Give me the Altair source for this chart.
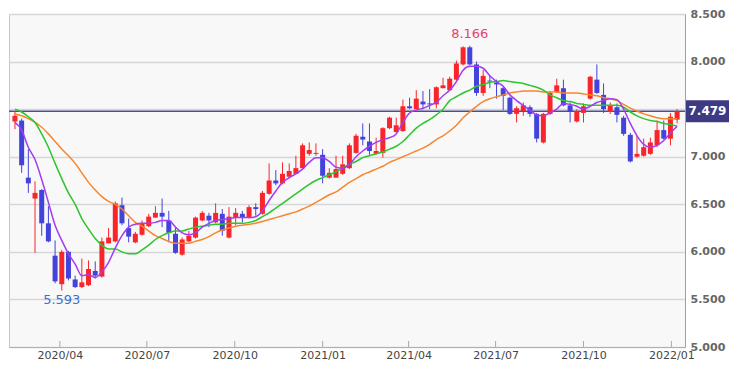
import altair as alt
import pandas as pd

# ---- data (weekly candles) ----
start_date = "2020-02-14"
opens = [7.37, 7.38, 6.78, 6.56, 6.65, 6.30, 5.96, 5.66, 6.00, 5.71,
         5.63, 5.65, 5.80, 5.74, 6.09, 6.11, 6.49, 6.25, 6.10, 6.18,
         6.27, 6.36, 6.41, 6.33, 6.19, 5.97, 6.11, 6.15, 6.33, 6.38,
         6.31, 6.40, 6.15, 6.36, 6.40, 6.36, 6.47, 6.40, 6.61, 6.75,
         6.72, 6.79, 6.82, 6.88, 7.03, 7.03, 7.02, 6.78, 6.78, 6.82,
         6.88, 7.04, 7.21, 7.16, 7.03, 7.04, 7.30, 7.26, 7.27, 7.53,
         7.50, 7.58, 7.56, 7.55, 7.72, 7.70, 7.81, 7.97, 8.15, 7.97,
         7.67, 7.80, 7.78, 7.72, 7.62, 7.45, 7.48, 7.52, 7.45, 7.15,
         7.45, 7.68, 7.72, 7.54, 7.37, 7.46, 7.61, 7.81, 7.65, 7.47,
         7.52, 7.41, 7.23, 7.00, 7.01, 7.03, 7.12, 7.28, 7.19, 7.39]
highs = [7.48, 7.40, 7.08, 6.74, 6.66, 6.48, 6.12, 6.02, 6.01, 5.75,
         5.93, 5.91, 5.90, 6.15, 6.25, 6.53, 6.57, 6.35, 6.21, 6.33,
         6.40, 6.48, 6.56, 6.43, 6.25, 6.15, 6.22, 6.37, 6.43, 6.41,
         6.51, 6.45, 6.47, 6.46, 6.43, 6.49, 6.51, 6.64, 6.93, 6.86,
         6.94, 6.93, 7.01, 7.14, 7.15, 7.14, 7.08, 6.88, 7.01, 7.01,
         7.14, 7.24, 7.35, 7.35, 7.20, 7.31, 7.42, 7.41, 7.60, 7.62,
         7.70, 7.69, 7.71, 7.74, 7.83, 7.84, 8.01, 8.16, 8.166, 8.00,
         7.91, 7.85, 7.81, 7.74, 7.63, 7.53, 7.57, 7.54, 7.46, 7.46,
         7.69, 7.82, 7.81, 7.57, 7.50, 7.56, 7.85, 7.97, 7.77, 7.57,
         7.56, 7.43, 7.25, 7.22, 7.19, 7.20, 7.38, 7.38, 7.46, 7.50]
lows = [7.29, 6.83, 6.62, 5.99, 6.17, 6.10, 5.67, 5.593, 5.70, 5.62,
        5.62, 5.64, 5.72, 5.73, 6.09, 6.10, 6.28, 6.10, 6.09, 6.17,
        6.26, 6.36, 6.26, 6.10, 5.98, 5.96, 6.10, 6.14, 6.32, 6.26,
        6.30, 6.17, 6.14, 6.28, 6.31, 6.35, 6.38, 6.39, 6.60, 6.70,
        6.71, 6.77, 6.82, 6.87, 7.01, 7.01, 6.72, 6.77, 6.78, 6.81,
        6.87, 7.03, 7.12, 7.02, 7.02, 6.99, 7.29, 7.25, 7.26, 7.50,
        7.50, 7.50, 7.50, 7.51, 7.72, 7.69, 7.80, 7.96, 7.96, 7.64,
        7.64, 7.72, 7.61, 7.49, 7.44, 7.36, 7.43, 7.42, 7.15, 7.14,
        7.44, 7.67, 7.53, 7.36, 7.36, 7.36, 7.60, 7.66, 7.46, 7.45,
        7.36, 7.22, 6.94, 6.99, 7.00, 7.02, 7.10, 7.18, 7.12, 7.35]
closes = [7.43, 6.91, 6.72, 6.62, 6.30, 6.11, 5.69, 6.00, 5.72, 5.63,
          5.68, 5.82, 5.75, 6.11, 6.15, 6.51, 6.30, 6.16, 6.19, 6.30,
          6.37, 6.41, 6.37, 6.20, 5.99, 6.13, 6.17, 6.36, 6.41, 6.33,
          6.41, 6.22, 6.37, 6.41, 6.36, 6.47, 6.45, 6.62, 6.75, 6.72,
          6.82, 6.85, 6.88, 7.12, 7.07, 7.04, 6.80, 6.83, 6.87, 6.92,
          7.12, 7.22, 7.18, 7.06, 7.06, 7.30, 7.41, 7.33, 7.53, 7.51,
          7.61, 7.55, 7.55, 7.73, 7.75, 7.82, 7.98, 8.15, 7.97, 7.67,
          7.85, 7.79, 7.76, 7.64, 7.45, 7.51, 7.54, 7.45, 7.19, 7.45,
          7.67, 7.75, 7.54, 7.47, 7.48, 7.53, 7.84, 7.67, 7.50, 7.54,
          7.44, 7.24, 6.95, 7.03, 7.10, 7.15, 7.28, 7.19, 7.42, 7.479]

ma5 = [7.36, 7.28, 7.10, 6.97, 6.76, 6.52, 6.28, 6.12, 5.98, 5.87,
       5.75, 5.76, 5.73, 5.79, 5.89, 6.04, 6.17, 6.26, 6.29, 6.30,
       6.30, 6.31, 6.33, 6.33, 6.26, 6.20, 6.18, 6.20, 6.26, 6.30,
       6.33, 6.34, 6.35, 6.36, 6.36, 6.36, 6.37, 6.43, 6.54, 6.64,
       6.73, 6.78, 6.82, 6.87, 6.94, 6.99, 6.99, 6.95, 6.89, 6.88,
       6.92, 7.00, 7.06, 7.11, 7.15, 7.18, 7.20, 7.24, 7.36, 7.46,
       7.49, 7.51, 7.54, 7.57, 7.64, 7.70, 7.79, 7.91, 7.95, 7.95,
       7.93, 7.85, 7.79, 7.74, 7.65, 7.59, 7.54, 7.49, 7.44, 7.43,
       7.46, 7.50, 7.56, 7.55, 7.53, 7.50, 7.53, 7.57, 7.59, 7.61,
       7.60, 7.50, 7.35, 7.22, 7.13, 7.10, 7.12, 7.17, 7.25, 7.32]
ma13 = [7.50, 7.47, 7.42, 7.36, 7.24, 7.10, 6.93, 6.77, 6.62, 6.50,
        6.35, 6.24, 6.14, 6.07, 6.03, 6.03, 6.00, 5.98, 5.98, 6.02,
        6.07, 6.13, 6.17, 6.20, 6.22, 6.22, 6.24, 6.26, 6.27, 6.28,
        6.29, 6.29, 6.30, 6.30, 6.30, 6.31, 6.33, 6.37, 6.41, 6.46,
        6.51, 6.56, 6.61, 6.66, 6.71, 6.75, 6.78, 6.81, 6.84, 6.88,
        6.92, 6.95, 6.99, 7.01, 7.03, 7.05, 7.08, 7.11, 7.16, 7.23,
        7.30, 7.35, 7.39, 7.44, 7.50, 7.59, 7.63, 7.67, 7.70, 7.74,
        7.76, 7.78, 7.79, 7.80, 7.79, 7.78, 7.77, 7.75, 7.73, 7.70,
        7.65, 7.62, 7.59, 7.58, 7.56, 7.55, 7.54, 7.54, 7.54, 7.54,
        7.54, 7.52, 7.47, 7.43, 7.40, 7.38, 7.37, 7.35, 7.34, 7.32]
ma26 = [7.45, 7.43, 7.40, 7.36, 7.31, 7.24, 7.16, 7.08, 7.01, 6.93,
        6.83, 6.73, 6.65, 6.58, 6.53, 6.50, 6.45, 6.38, 6.31, 6.27,
        6.22, 6.17, 6.14, 6.11, 6.09, 6.09, 6.09, 6.11, 6.13, 6.16,
        6.20, 6.23, 6.25, 6.27, 6.28, 6.29, 6.30, 6.32, 6.34, 6.36,
        6.38, 6.40, 6.42, 6.45, 6.48, 6.52, 6.56, 6.60, 6.63, 6.68,
        6.73, 6.77, 6.81, 6.84, 6.87, 6.90, 6.94, 6.97, 7.00, 7.03,
        7.06, 7.09, 7.13, 7.18, 7.22, 7.27, 7.33, 7.41, 7.47, 7.53,
        7.58, 7.61, 7.63, 7.65, 7.67, 7.68, 7.69, 7.69, 7.69, 7.68,
        7.68, 7.68, 7.67, 7.67, 7.67, 7.66, 7.65, 7.64, 7.62, 7.61,
        7.59, 7.55, 7.51, 7.48, 7.45, 7.43, 7.41, 7.40, 7.40, 7.40]

x_tick_dates = ["2020-04-01", "2020-07-01", "2020-10-01", "2021-01-01",
                "2021-04-01", "2021-07-01", "2021-10-01", "2022-01-01"]
y_ticks = [5.0, 5.5, 6.0, 6.5, 7.0, 7.5, 8.0, 8.5]
last_price = 7.479
high_index, high_text = 68, "8.166"
low_index, low_text = 7, "5.593"

# ---- styling ----
RED = "#f8262a"
BLUE = "#4343dc"
PURPLE = "#a33cf2"
GREEN = "#2dc52d"
ORANGE = "#f7862d"
NAVY = "#3e3b84"
FONT = "DejaVu Sans"
PLOT_H = 333
Y_MIN, Y_MAX = 5.0, 8.5

dates = pd.date_range(start_date, periods=len(opens), freq="7D").strftime("%Y-%m-%d")
candles = pd.DataFrame({
    "date": dates, "open": opens, "high": highs, "low": lows, "close": closes,
})
candles["dir"] = ["up" if c >= o else "down" for o, c in zip(opens, closes)]

ma = pd.concat([
    pd.DataFrame({"date": dates, "value": ma26, "series": "ma26"}),
    pd.DataFrame({"date": dates, "value": ma13, "series": "ma13"}),
    pd.DataFrame({"date": dates, "value": ma5, "series": "ma5"}),
])

xscale = alt.Scale(
    type="utc",
    domain=[alt.DateTime(year=2020, month=2, date=13, utc=True),
            alt.DateTime(year=2022, month=1, date=10, utc=True)],
)
yscale = alt.Scale(domain=[Y_MIN, Y_MAX], nice=False, zero=False)

x_axis = alt.Axis(
    values=[alt.DateTime(year=int(d[:4]), month=int(d[5:7]), date=1, utc=True) for d in x_tick_dates],
    labelExpr="utcFormat(datum.value, '%Y/%m')",
    tickSize=0, labelPadding=2, labelFont=FONT, labelFontSize=11, labelColor="#444444",
    grid=False, domainColor="#b0b0b0", title=None, labelOverlap=False,
)
# the 7.500 label sits under the current-price box in the reference, so it is left blank
y_axis = alt.Axis(
    orient="right", values=y_ticks, tickSize=0, labelPadding=5,
    labelExpr=f"abs(datum.value - {last_price}) < 0.1 ? '' : format(datum.value, '.3f')",
    labelFont=FONT, labelFontSize=11, labelFontWeight="bold", labelColor="#666666",
    grid=True, gridColor="#d6d6d6", gridWidth=1.5, domainColor="#a0a0a0", title=None,
)


def X(field):
    return alt.X(field, scale=xscale, axis=x_axis, title=None)


def Y(field):
    return alt.Y(field, scale=yscale, axis=y_axis, title=None)


color_dir = alt.Color("dir:N", scale=alt.Scale(domain=["up", "down"], range=[RED, BLUE]), legend=None)

base = alt.Chart(candles)

ticks_df = pd.DataFrame({"d": x_tick_dates, "y0": [Y_MIN] * len(x_tick_dates)})
tick_marks = alt.Chart(ticks_df).mark_rule(color="#aaaaaa", strokeWidth=1).encode(
    x=X("d:T"),
    y=Y("y0:Q"),
    y2=alt.datum(Y_MIN + 6 * (Y_MAX - Y_MIN) / PLOT_H),
)

price_line = alt.Chart(pd.DataFrame({"v": [last_price]})).mark_rule(
    color="#4e4c96", strokeWidth=1.5
).encode(y=Y("v:Q"))

wicks = base.mark_rule(strokeWidth=1).encode(
    x=X("date:T"), y=Y("low:Q"), y2="high:Q", color=color_dir,
)
bodies = base.mark_bar(size=5).encode(
    x=X("date:T"), y=Y("open:Q"), y2="close:Q", color=color_dir,
)

lines = alt.Chart(ma).mark_line(strokeWidth=1.5, interpolate="monotone").encode(
    x=X("date:T"),
    y=Y("value:Q"),
    stroke=alt.Stroke("series:N", scale=alt.Scale(domain=["ma5", "ma13", "ma26"],
                                                  range=[PURPLE, GREEN, ORANGE]), legend=None),
    detail="series:N",
)

ann = pd.DataFrame({
    "date": [dates[high_index], dates[low_index]],
    "v": [float(high_text), float(low_text)],
    "t": [high_text, low_text],
})
high_lbl = alt.Chart(ann.iloc[[0]]).mark_text(
    color="#ea3f70", font=FONT, fontSize=13, dy=-12, baseline="middle"
).encode(x=X("date:T"), y=Y("v:Q"), text="t:N")
low_lbl = alt.Chart(ann.iloc[[1]]).mark_text(
    color="#3f6fcf", font=FONT, fontSize=13, dy=9, baseline="middle"
).encode(x=X("date:T"), y=Y("v:Q"), text="t:N")

half_box = 11 * (Y_MAX - Y_MIN) / PLOT_H
box_df = pd.DataFrame({"v": [last_price], "lo": [last_price - half_box],
                       "hi": [last_price + half_box], "t": [f"{last_price:.3f}"]})
price_box = alt.Chart(box_df).mark_rect(color=NAVY).encode(
    x=alt.value(677), x2=alt.value(720),
    y=Y("lo:Q"), y2="hi:Q",
)
price_text = alt.Chart(box_df).mark_text(
    color="white", font=FONT, fontSize=12, fontWeight="bold", baseline="middle", align="center"
).encode(x=alt.value(698.5), y=Y("v:Q"), text="t:N")

chart = alt.layer(
    tick_marks, price_line, wicks, bodies, lines,
    high_lbl, low_lbl, price_box, price_text,
).resolve_scale(
    color="independent", stroke="independent"
).properties(
    width=676, height=PLOT_H,
    padding={"left": 0, "top": 0, "right": 0, "bottom": 0},
    background="white",
).configure_view(
    fill="#f8f8f8", stroke="#c8c8c8", strokeWidth=1,
)

chart.save("out.html", embed_options={"renderer": "svg", "actions": False})
